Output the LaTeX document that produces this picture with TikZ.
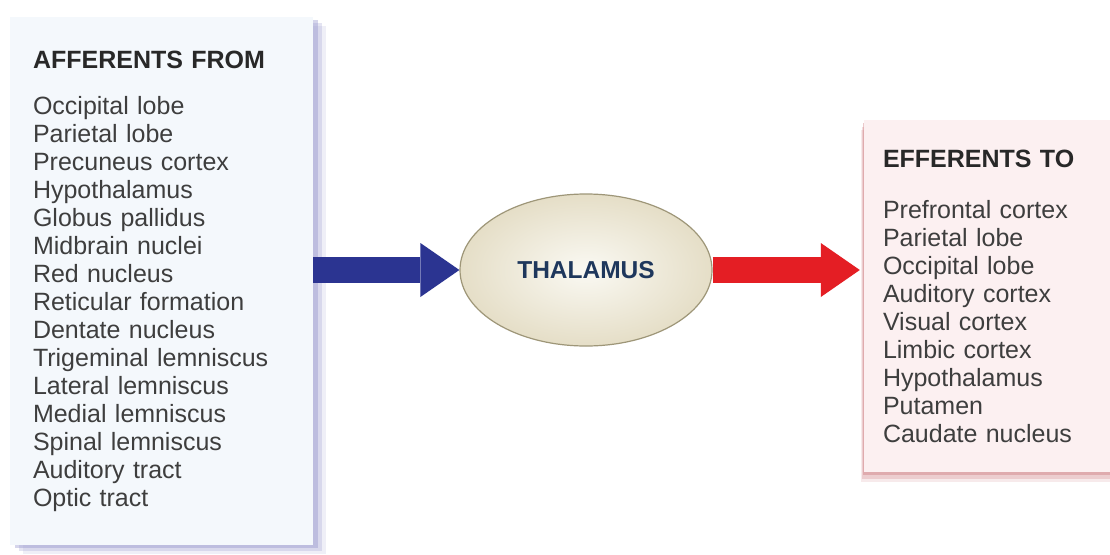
\documentclass[tikz,border=0pt]{standalone}
\usepackage{fontspec}
\setmainfont{Liberation Sans}
\usetikzlibrary{shapes.geometric,arrows.meta,shadows,positioning}

\definecolor{affill}{RGB}{244,248,252}
\definecolor{afshade}{RGB}{150,150,205}
\definecolor{effill}{RGB}{252,240,241}
\definecolor{efshade}{RGB}{205,120,125}
\definecolor{itemgray}{RGB}{62,62,62}
\definecolor{headgray}{RGB}{40,40,40}
\definecolor{thalin}{RGB}{250,249,243}
\definecolor{thalout}{RGB}{229,222,199}
\definecolor{thaledge}{RGB}{158,150,120}
\definecolor{thaltext}{RGB}{30,55,92}
\definecolor{afblue}{RGB}{43,52,145}
\definecolor{efred}{RGB}{228,30,36}

\newcommand{\listhead}[1]{{\color{headgray}\bfseries #1}}

\begin{document}
\begin{tikzpicture}[
    x=1pt, y=-1pt,
    listbox/.style={rectangle, inner ysep=0pt, align=left, text=itemgray, font=\fontsize{25}{28}\selectfont},
    afshadow/.style={general shadow={fill=afshade, opacity=0.15, shadow xshift=13pt, shadow yshift=-9pt},
                     general shadow={fill=afshade, opacity=0.25, shadow xshift=9pt, shadow yshift=-6pt},
                     general shadow={fill=afshade, opacity=0.4, shadow xshift=5pt, shadow yshift=-3pt}},
    efshadow/.style={general shadow={fill=efshade, opacity=0.15, shadow xshift=-3pt, shadow yshift=-10pt},
                     general shadow={fill=efshade, opacity=0.25, shadow xshift=-2pt, shadow yshift=-7pt},
                     general shadow={fill=efshade, opacity=0.4, shadow xshift=-1pt, shadow yshift=-3pt}},
    hub/.style={ellipse, draw=thaledge, line width=1.2pt, inner color=thalin, outer color=thalout, minimum width=252pt, minimum height=152pt, text=thaltext, font=\fontsize{24.5}{28}\selectfont\bfseries},
    fatarrow/.style={line width=26pt, -{Triangle[length=39pt, width=54pt, line width=0pt]}}
]

    \useasboundingbox[fill=white] (0,0) rectangle (1110,554);

    % afferent list
    \node[listbox, afshadow, fill=affill, minimum width=303pt, minimum height=528pt, text width=257pt, inner xsep=23pt] (afbox) at (161.5,281)
        {\listhead{AFFERENTS FROM}\\[18pt]
         Occipital lobe\\ Parietal lobe\\ Precuneus cortex\\ Hypothalamus\\ Globus pallidus\\
         Midbrain nuclei\\ Red nucleus\\ Reticular formation\\ Dentate nucleus\\ Trigeminal lemniscus\\
         Lateral lemniscus\\ Medial lemniscus\\ Spinal lemniscus\\ Auditory tract\\ Optic tract};

    % efferent list
    \node[listbox, efshadow, fill=effill, minimum width=256pt, minimum height=352pt, text width=218pt, inner xsep=19pt] (efbox) at (992,296)
        {\listhead{EFFERENTS TO}\\[23pt]
         Prefrontal cortex\\ Parietal lobe\\ Occipital lobe\\ Auditory cortex\\ Visual cortex\\
         Limbic cortex\\ Hypothalamus\\ Putamen\\ Caudate nucleus};

    \node[hub] (thal) at (586,270) {THALAMUS};

    \draw[fatarrow, afblue] (afbox.east |- thal.west) -- (thal.west);
    \draw[fatarrow, efred] (thal.east) -- ([xshift=-4pt]efbox.west |- thal.east);

\end{tikzpicture}
\end{document}
